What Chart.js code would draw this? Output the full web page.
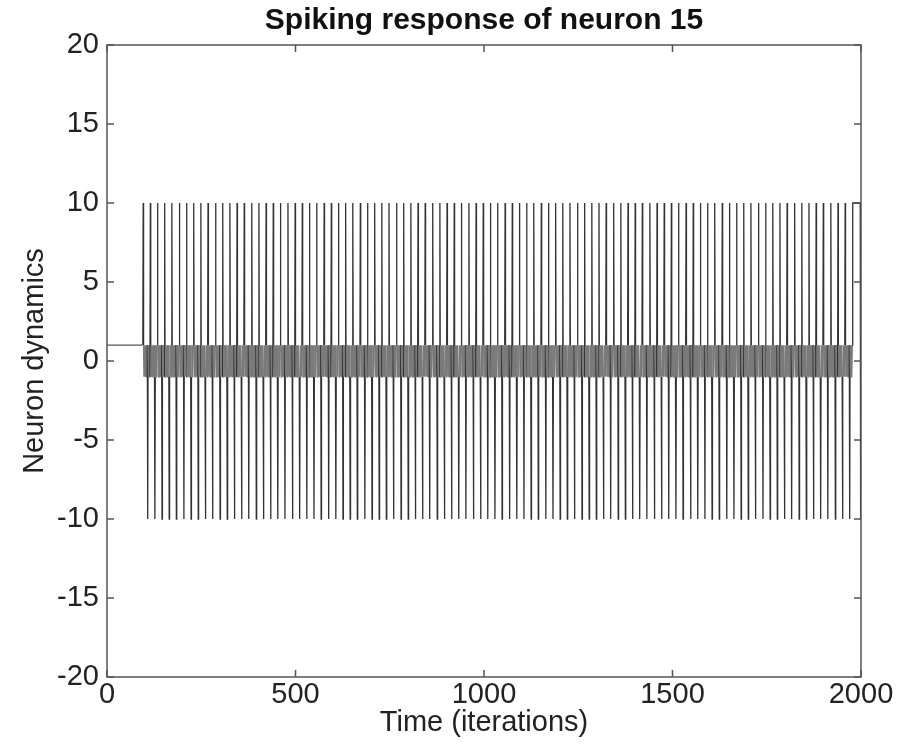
<!DOCTYPE html>
<html>
<head>
<meta charset="utf-8">
<title>Spiking response of neuron 15</title>
<script src="https://cdn.jsdelivr.net/npm/chart.js@4"></script>
<style>
  html, body { margin: 0; padding: 0; background: #fff; }
  #wrap { width: 923px; height: 748px; }
</style>
</head>
<body>
<div id="wrap"><canvas id="spikeChart"></canvas></div>
<script>
// iterations at which the neuron fires (+10)
const spikeUp = [
  96, 115, 134, 153, 172, 192, 211, 230, 249, 268, 288, 307, 326, 345, 364,
  384, 403, 422, 441, 460, 480, 499, 518, 537, 556, 576, 595, 614, 633, 652,
  672, 691, 710, 729, 748, 768, 787, 806, 825, 844, 864, 883, 902, 921, 940,
  960, 979, 998, 1017, 1036, 1056, 1075, 1094, 1113, 1132, 1152, 1171, 1190,
  1209, 1228, 1248, 1267, 1286, 1305, 1324, 1344, 1363, 1382, 1401, 1420,
  1440, 1459, 1478, 1497, 1516, 1536, 1555, 1574, 1593, 1612, 1632, 1651,
  1670, 1689, 1708, 1728, 1747, 1766, 1785, 1804, 1824, 1843, 1862, 1881,
  1900, 1920, 1939, 1958
];
const downLag = 12;          // the -10 dip follows each spike
const lastSpike = 1978;      // final spike, held high until the end
const lastHoldEnd = 1998;
const restLevel = 1;
const spikeLevel = 10;
const dipLevel = -10;
const bandLevels = [-1, 1];  // fast flip between spikes
const xTicks = [0, 500, 1000, 1500, 2000];
const yTicks = [-20, -15, -10, -5, 0, 5, 10, 15, 20];
const chartTitle = 'Spiking response of neuron 15';

// build the sample series
const upSet = new Set(spikeUp);
const downSet = new Set(spikeUp.map(t => t + downLag));
const series = [];
for (let t = 0; t <= 2000; t++) {
  let v;
  if (t < spikeUp[0]) v = restLevel;
  else if (t >= lastSpike && t <= lastHoldEnd) v = spikeLevel;
  else if (t > lastHoldEnd) v = dipLevel;
  else if (upSet.has(t)) v = spikeLevel;
  else if (downSet.has(t)) v = dipLevel;
  else v = bandLevels[t % 2];
  series.push({ x: t, y: v });
}

const FONT = "'Liberation Sans', Arial, sans-serif";

// MATLAB-like box with inward ticks on all four sides, title centred on the axes
const boxFrame = {
  id: 'boxFrame',
  afterDatasetsDraw(chart) {
    const { ctx, chartArea: a, scales: { x, y } } = chart;
    ctx.save();
    ctx.strokeStyle = '#555';
    ctx.lineWidth = 1.5;
    ctx.strokeRect(a.left, a.top, a.right - a.left, a.bottom - a.top);
    ctx.beginPath();
    xTicks.forEach(v => {
      const px = x.getPixelForValue(v);
      ctx.moveTo(px, a.bottom); ctx.lineTo(px, a.bottom - 7);
      ctx.moveTo(px, a.top); ctx.lineTo(px, a.top + 7);
    });
    yTicks.forEach(v => {
      const py = y.getPixelForValue(v);
      ctx.moveTo(a.left, py); ctx.lineTo(a.left + 7, py);
      ctx.moveTo(a.right, py); ctx.lineTo(a.right - 7, py);
    });
    ctx.stroke();

    ctx.fillStyle = '#111';
    ctx.font = 'bold 30px ' + FONT;
    ctx.textAlign = 'center';
    ctx.textBaseline = 'middle';
    ctx.fillText(chartTitle, (a.left + a.right) / 2, 21);
    ctx.restore();
  }
};

const inBand = c => Math.abs(c.p0.parsed.y) <= 1 && Math.abs(c.p1.parsed.y) <= 1;

new Chart(document.getElementById('spikeChart'), {
  type: 'line',
  data: {
    datasets: [{
      data: series,
      borderColor: '#333',
      borderWidth: 1.3,
      pointRadius: 0,
      tension: 0,
      segment: {
        borderColor: c => inBand(c) ? (c.p0.parsed.x < spikeUp[0] ? '#555' : '#7a7a7a') : undefined
      }
    }]
  },
  options: {
    responsive: true,
    maintainAspectRatio: false,
    animation: false,
    layout: { padding: { left: 0, right: 62, top: 45, bottom: 0 } },
    plugins: {
      legend: { display: false },
      tooltip: { enabled: false },
      title: { display: false }
    },
    scales: {
      x: {
        type: 'linear',
        min: 0,
        max: 2000,
        afterFit: s => { s.height = 71; },
        afterBuildTicks: s => { s.ticks = xTicks.map(v => ({ value: v })); },
        grid: { display: false, drawTicks: false },
        border: { display: false },
        ticks: {
          color: '#222',
          padding: 1,
          font: { family: FONT, size: 29 },
          callback: v => String(v)
        },
        title: {
          display: true,
          text: 'Time (iterations)',
          color: '#222',
          font: { family: FONT, size: 29 },
          padding: { top: 0, bottom: 8 }
        }
      },
      y: {
        min: -20,
        max: 20,
        afterFit: s => { s.width = 107; },
        afterBuildTicks: s => { s.ticks = yTicks.map(v => ({ value: v })); },
        grid: { display: false, drawTicks: false },
        border: { display: false },
        ticks: { color: '#222', padding: 8, font: { family: FONT, size: 29 } },
        title: {
          display: true,
          text: 'Neuron dynamics',
          color: '#222',
          font: { family: FONT, size: 29 },
          padding: { top: 18, bottom: 0 }
        }
      }
    }
  },
  plugins: [boxFrame]
});
</script>
</body>
</html>
